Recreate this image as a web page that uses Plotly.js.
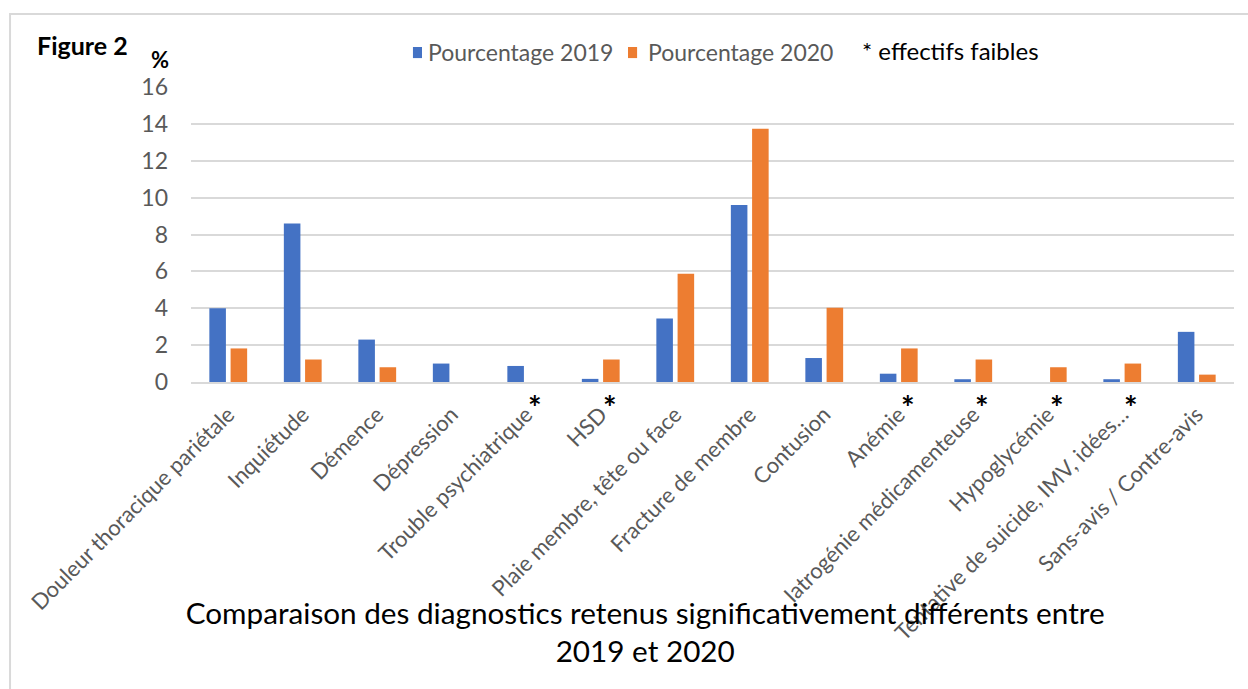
<!DOCTYPE html>
<html>
<head>
<meta charset="utf-8">
<script src="https://cdn.plot.ly/plotly-3.0.1.min.js"></script>
<style>
  html, body { margin: 0; padding: 0; background: #ffffff; }
  #chart { width: 1248px; height: 689px; }
</style>
</head>
<body>
<div id="chart"></div>
<script>
// ---- Data ----
const categories = [
  "Douleur thoracique pariétale",
  "Inquiétude",
  "Démence",
  "Dépression",
  "Trouble psychiatrique",
  "HSD",
  "Plaie membre, tête ou face",
  "Fracture de membre",
  "Contusion",
  "Anémie",
  "Iatrogénie médicamenteuse",
  "Hypoglycémie",
  "Tentative de suicide, IMV, idées…",
  "Sans-avis / Contre-avis"
];
const pct2019 = [4.0, 8.6, 2.3, 1.0, 0.87, 0.17, 3.45, 9.6, 1.3, 0.45, 0.15, 0.0, 0.15, 2.72];
const pct2020 = [1.82, 1.22, 0.8, 0.0, 0.0, 1.22, 5.87, 13.73, 4.03, 1.82, 1.22, 0.8, 1.0, 0.4];
const seriesNames = ["Pourcentage 2019", "Pourcentage 2020"];
const seriesColors = ["#4472C4", "#ED7D31"];
const lowCountCategories = [
  "Trouble psychiatrique", "HSD", "Anémie", "Iatrogénie médicamenteuse",
  "Hypoglycémie", "Tentative de suicide, IMV, idées…"
];
const yTicks = [0, 2, 4, 6, 8, 10, 12, 14, 16];

const FONT = "Lato, 'Open Sans', sans-serif";
const GREY = "#595959";
const GRID = "#d9d9d9";

const traces = [
  { type: "bar", name: seriesNames[0], x: categories, y: pct2019,
    marker: { color: seriesColors[0] }, hoverinfo: "x+y" },
  { type: "bar", name: seriesNames[1], x: categories, y: pct2020,
    marker: { color: seriesColors[1] }, hoverinfo: "x+y" }
];

const annotations = lowCountCategories.map(c => ({
  x: c, xref: "x", xshift: 9,
  y: -0.088, yref: "paper",
  text: "<b>*</b>", showarrow: false,
  font: { family: FONT, size: 32, color: "#000000" },
  xanchor: "center", yanchor: "middle"
}));

// legend (drawn as key boxes + labels to match the compact original spacing)
const legendKeyX = [0.2128, 0.419];
const legendTextX = [0.2253, 0.4362];
const shapes = [
  { type: "rect", xref: "paper", yref: "paper",
    x0: -0.1735, x1: 1.02, y0: -1.1, y1: 1.2475,
    line: { color: GRID, width: 2 }, fillcolor: "rgba(0,0,0,0)", layer: "below" }
];
seriesNames.forEach((n, i) => {
  shapes.push({ type: "rect", xref: "paper", yref: "paper",
    x0: legendKeyX[i], x1: legendKeyX[i] + 0.0087, y0: 1.098, y1: 1.1356,
    line: { width: 0 }, fillcolor: seriesColors[i] });
  annotations.push({ text: n, xref: "paper", yref: "paper",
    x: legendTextX[i], y: 1.1186, xanchor: "left", yanchor: "middle", showarrow: false,
    font: { family: FONT, size: 23, color: GREY } });
});

annotations.push(
  { text: "<b>Figure 2</b>", xref: "paper", yref: "paper",
    x: -0.1495, y: 1.142, xanchor: "left", yanchor: "middle", showarrow: false,
    font: { family: FONT, size: 25, color: "#000000" } },
  { text: "<b>%</b>", xref: "paper", yref: "paper",
    x: -0.0405, y: 1.093, xanchor: "left", yanchor: "middle", showarrow: false,
    font: { family: FONT, size: 22, color: "#000000" } },
  { text: "* effectifs faibles", xref: "paper", yref: "paper",
    x: 0.641, y: 1.125, xanchor: "left", yanchor: "middle", showarrow: false,
    font: { family: FONT, size: 24, color: "#000000" } }
);

const layout = {
  width: 1248, height: 689,
  margin: { l: 191, r: 14, t: 87, b: 307, pad: 0 },
  paper_bgcolor: "#ffffff", plot_bgcolor: "#ffffff",
  font: { family: FONT, color: GREY },
  barmode: "group", bargap: 0.43, bargroupgap: 0.22,
  title: {
    text: "Comparaison des diagnostics retenus significativement différents entre<br>2019 et 2020",
    font: { family: FONT, size: 29.7, color: "#000000" },
    x: 0.517, xanchor: "center", xref: "container",
    y: 0.095, yanchor: "middle", yref: "container"
  },
  xaxis: {
    type: "category",
    tickangle: -45,
    tickfont: { family: FONT, size: 22, color: GREY },
    showgrid: false, zeroline: false,
    showline: true, linecolor: GRID, linewidth: 2,
    ticks: "", ticklabelstandoff: 9,
    fixedrange: true
  },
  yaxis: {
    range: [0, 16], tickvals: yTicks,
    tickfont: { family: FONT, size: 23, color: GREY },
    showgrid: true, gridcolor: GRID, gridwidth: 2,
    zeroline: false, showline: false, ticks: "",
    ticklabelstandoff: 22,
    fixedrange: true
  },
  showlegend: false,
  shapes: shapes,
  annotations: annotations
};

Plotly.newPlot("chart", traces, layout, { displayModeBar: false, staticPlot: true });
</script>
</body>
</html>
